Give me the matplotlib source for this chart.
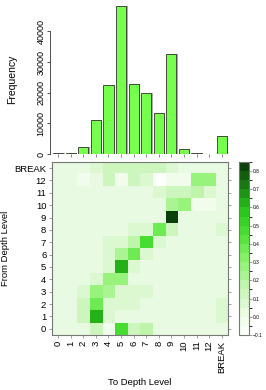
import numpy as np
import matplotlib
matplotlib.use("Agg")
import matplotlib.pyplot as plt
from matplotlib.colors import LinearSegmentedColormap, BoundaryNorm

plt.rcParams['font.family'] = ['Liberation Sans', 'DejaVu Sans']

levels = ['0', '1', '2', '3', '4', '5', '6', '7', '8', '9', '10', '11', '12', 'BREAK']
freq = [200, 500, 2150, 11150, 22450, 48300, 22850, 19850, 13250, 32650, 1600, 400, 120, 5750]

# rows: from level 0..12, BREAK ; cols: to level 0..12, BREAK
trans = np.array([
    [0.02, 0.02, 0.02, 0.12, -0.02, 0.47, 0.10, 0.15, 0.02, 0.02, 0.02, 0.02, 0.02, 0.02],
    [0.00, 0.04, 0.10, 0.60, 0.06, 0.00, 0.00, 0.00, 0.02, 0.02, 0.00, 0.02, 0.02, 0.06],
    [0.00, 0.02, 0.10, 0.37, 0.08, 0.05, 0.05, 0.02, 0.02, 0.02, 0.02, 0.00, 0.02, 0.05],
    [0.02, 0.02, 0.05, 0.27, 0.20, 0.08, 0.05, 0.05, 0.02, 0.02, 0.02, 0.02, 0.02, 0.02],
    [0.00, 0.02, 0.02, 0.06, 0.27, 0.25, 0.04, 0.04, 0.02, 0.02, 0.02, 0.02, 0.02, 0.02],
    [0.02, 0.02, 0.02, 0.02, 0.08, 0.63, 0.08, 0.00, 0.02, 0.02, 0.02, 0.02, 0.02, 0.02],
    [0.02, 0.02, 0.02, 0.02, 0.05, 0.22, 0.35, 0.08, 0.02, 0.02, 0.02, 0.02, 0.02, 0.02],
    [0.02, 0.02, 0.02, 0.02, 0.05, 0.05, 0.15, 0.45, 0.08, 0.02, 0.02, 0.02, 0.02, 0.02],
    [0.00, 0.02, 0.02, 0.02, 0.00, 0.04, 0.05, 0.08, 0.37, 0.12, 0.02, 0.02, 0.02, 0.06],
    [0.00, 0.00, 0.02, 0.02, 0.02, 0.00, 0.00, 0.00, 0.04, 0.83, 0.02, 0.02, 0.02, 0.02],
    [0.00, 0.00, 0.02, 0.02, 0.02, 0.02, 0.02, 0.02, 0.04, 0.20, 0.25, -0.02, -0.05, 0.02],
    [0.00, 0.00, 0.00, 0.02, 0.04, 0.04, 0.04, 0.04, 0.05, 0.10, 0.12, 0.16, 0.05, 0.02],
    [0.00, 0.00, -0.02, 0.02, 0.10, -0.05, 0.10, 0.05, -0.08, -0.02, -0.02, 0.25, 0.28, 0.00],
    [0.00, 0.03, 0.03, 0.08, 0.12, 0.12, 0.12, 0.10, 0.10, 0.06, 0.02, 0.02, 0.02, 0.00],
])

n = len(levels)
x = np.arange(n)
frame = '#777777'

fig = plt.figure(figsize=(2.66, 3.90), dpi=100)

# histogram
axh = fig.add_axes([0.195, 0.605, 0.662, 0.382])
axh.bar(x + 0.12, freq, width=0.8, color='#aaaaaa', edgecolor='none')
axh.bar(x, freq, width=0.8, color='#77ff4d', edgecolor='#333333', linewidth=0.6)
axh.set_xlim(-0.5, n - 0.5)
axh.set_ylim(0, 48600)
for s in ['top', 'right']:
    axh.spines[s].set_visible(False)
axh.spines['left'].set_bounds(0, 40000)
axh.spines['bottom'].set_visible(False)
axh.spines['left'].set_position(('outward', 1))
axh.spines['left'].set_color('#333333')
axh.spines['left'].set_linewidth(0.6)
axh.set_yticks([0, 10000, 20000, 30000, 40000])
axh.set_yticklabels(['0', '10000', '20000', '30000', '40000'], rotation=90, va='center', fontsize=6.5)
axh.set_xticks(x)
axh.set_xticklabels([])
axh.tick_params(axis='x', length=2, width=0.5, color='#555555', pad=0)
axh.tick_params(axis='y', length=2.5, width=0.6, color='#333333', pad=1)
axh.set_ylabel('Frequency', fontsize=7.5, labelpad=14)

# heatmap
axm = fig.add_axes([0.195, 0.141, 0.662, 0.444])
stops = [(0.0, '#fbfffa'), (0.105, '#eafbe3'), (0.26, '#c4f5b2'), (0.42, '#8ef36f'),
         (0.58, '#4ee235'), (0.74, '#28c41a'), (1.0, '#0b3f0b')]
cmap = LinearSegmentedColormap.from_list('grn', stops)
bounds = np.linspace(-0.1, 0.85, 20)
norm = BoundaryNorm(bounds, cmap.N)
im = axm.imshow(trans, cmap=cmap, norm=norm, origin='lower', aspect='auto',
                extent=(-0.5, n - 0.5, -0.5, n - 0.5))
axm.set_xticks(x)
axm.set_xticklabels(levels, rotation=90, fontsize=6.8)
axm.set_yticks(x)
axm.set_yticklabels(levels, fontsize=6.8)
axm.tick_params(axis='both', length=2, width=0.5, color=frame, pad=2)
axm.tick_params(axis='y', right=True)
for s in axm.spines.values():
    s.set_color(frame)
    s.set_linewidth(0.8)
axm.set_xlabel('To Depth Level', fontsize=6.8, labelpad=4)
axm.set_ylabel('From Depth Level', fontsize=6.8, labelpad=3)

# colorbar
axc = fig.add_axes([0.898, 0.141, 0.038, 0.444])
cb = fig.colorbar(im, cax=axc, ticks=np.round(np.arange(-0.1, 0.81, 0.1), 2))
cb.ax.set_yticklabels(['\u22120.1', '0.0', '0.1', '0.2', '0.3', '0.4', '0.5', '0.6', '0.7', '0.8'], fontsize=3.5)
cb.ax.tick_params(length=2, width=0.5, color=frame, pad=1)
cb.outline.set_edgecolor(frame)
cb.outline.set_linewidth(0.8)

fig.savefig('out.png', dpi=100)
